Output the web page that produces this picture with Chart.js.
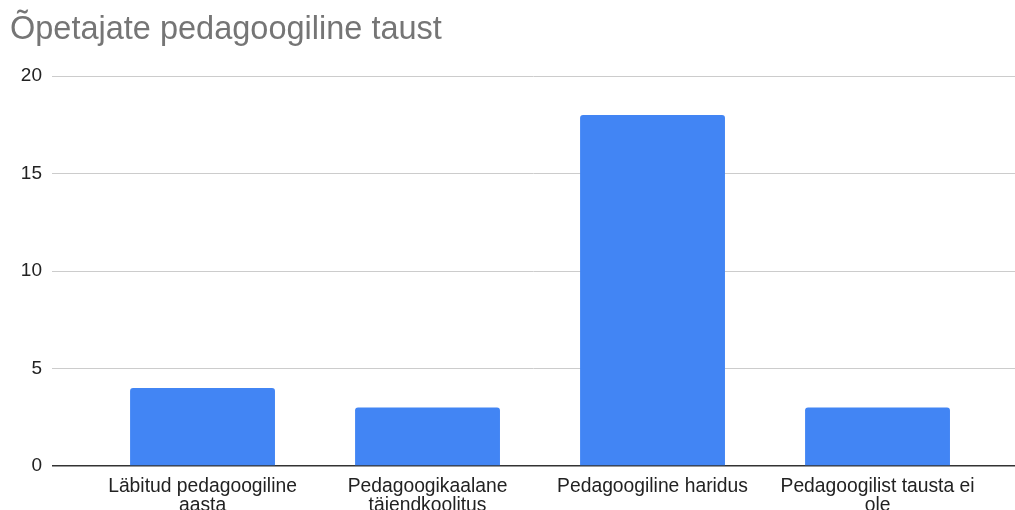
<!DOCTYPE html>
<html>
<head>
<meta charset="utf-8">
<script src="https://cdn.jsdelivr.net/npm/chart.js@4"></script>
<style>
  html, body { margin: 0; padding: 0; background: #fff; overflow: hidden; }
  #wrap { position: relative; width: 1015px; height: 540px; }
</style>
</head>
<body>
<div id="wrap"><canvas id="c"></canvas></div>
<script>
const chartTitle = "Õpetajate pedagoogiline taust";
const categories = [
  ["Läbitud pedagoogiline", "aasta"],
  ["Pedagoogikaalane", "täiendkoolitus"],
  ["Pedagoogiline haridus"],
  ["Pedagoogilist tausta ei", "ole"]
];
const values = [4, 3, 18, 3];
const yTicks = [0, 5, 10, 15, 20];

const FONT = "Arial, 'Liberation Sans', sans-serif";

new Chart(document.getElementById('c'), {
  type: 'bar',
  data: {
    datasets: [{
      data: values.map((v, i) => ({ x: i, y: v })),
      backgroundColor: '#4285F4',
      borderRadius: { topLeft: 3, topRight: 3, bottomLeft: 0, bottomRight: 0 },
      borderSkipped: 'bottom',
      barPercentage: 0.644,
      categoryPercentage: 1
    }]
  },
  options: {
    responsive: true,
    maintainAspectRatio: false,
    animation: false,
    layout: { padding: { left: 10, right: 0, top: 0, bottom: 0 } },
    plugins: {
      legend: { display: false },
      tooltip: { enabled: false },
      title: {
        display: true,
        text: chartTitle,
        align: 'start',
        color: '#757575',
        font: { family: FONT, size: 32.5, weight: 'normal' },
        padding: { top: 11, bottom: 26 }
      }
    },
    scales: {
      x: {
        type: 'linear',
        offset: false,
        min: -0.669,
        max: 3.611,
        afterBuildTicks: (s) => { s.ticks = categories.map((_, i) => ({ value: i })); },
        afterFit: (s) => { s.height = 74; },
        grid: { display: false, drawTicks: false, offset: false },
        border: { display: false },
        ticks: {
          autoSkip: false,
          maxRotation: 0,
          minRotation: 0,
          padding: 12,
          color: '#222',
          font: { family: FONT, size: 19.3, lineHeight: 0.95 },
          callback: (v) => categories[v]
        }
      },
      y: {
        min: 0,
        max: 20,
        afterBuildTicks: (s) => { s.ticks = yTicks.map(v => ({ value: v })); },
        afterFit: (s) => { s.width = 42; },
        grid: {
          drawTicks: false,
          color: (ctx) => (ctx.tick && ctx.tick.value === 0) ? '#333333' : '#cccccc',
          lineWidth: (ctx) => (ctx.tick && ctx.tick.value === 0) ? 1.5 : 1
        },
        border: { display: false },
        ticks: {
          padding: 10,
          color: '#222',
          font: { family: FONT, size: 19 }
        }
      }
    }
  }
});
</script>
</body>
</html>
